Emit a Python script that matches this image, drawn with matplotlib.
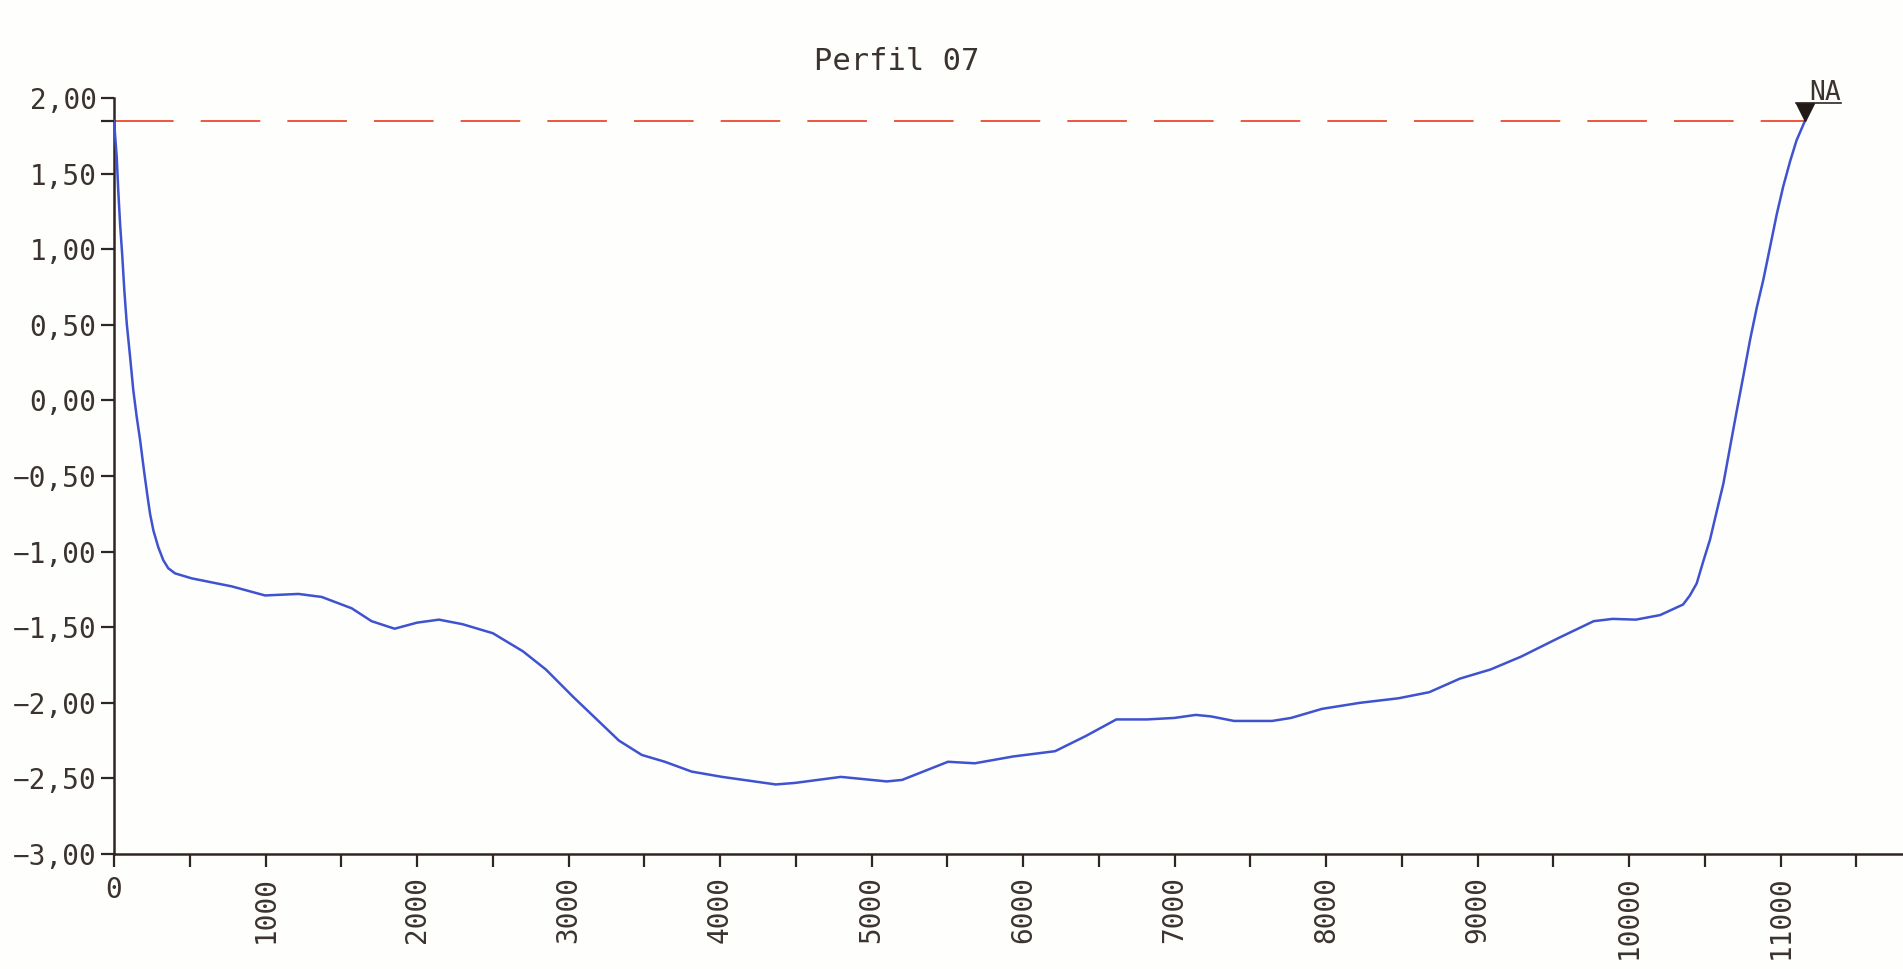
import matplotlib.pyplot as plt
from matplotlib.lines import Line2D
from matplotlib.transforms import offset_copy, IdentityTransform

plt.rcParams['font.family'] = 'DejaVu Sans Mono'

# perfil batimetrico - distancia (m) x cota (m)
distancia = [0, 18, 28, 40, 55, 68, 84, 106, 127, 150, 172, 200, 222, 238, 260,
             292, 325, 358, 403, 513, 777, 997, 1217, 1371,
             1569, 1700, 1852, 2000, 2145, 2300, 2501, 2700, 2851, 3030, 3333,
             3484, 3636, 3813, 4014, 4368, 4494, 4798, 5101, 5202, 5505, 5682,
             5935, 6212, 6414, 6616, 6819, 7000, 7140, 7241, 7393, 7644, 7770,
             7974, 8225, 8479, 8681, 8884, 9085, 9287, 9538, 9767, 9893, 10045,
             10205, 10357, 10402, 10447, 10490, 10535, 10579, 10623, 10667,
             10711, 10755, 10799, 10843, 10887, 10931, 10975, 11018, 11063,
             11106, 11162]
cota = [1.85, 1.61, 1.39, 1.17, 0.95, 0.73, 0.51, 0.29, 0.07, -0.11, -0.26,
        -0.48, -0.64, -0.75, -0.86, -0.97, -1.056, -1.11, -1.144, -1.177,
        -1.23, -1.29, -1.28, -1.30, -1.375, -1.46, -1.51, -1.47, -1.45, -1.48,
        -1.54, -1.66, -1.78, -1.96, -2.25, -2.345, -2.39, -2.455, -2.49, -2.54,
        -2.53, -2.49, -2.52, -2.51, -2.39, -2.40, -2.355, -2.32, -2.22, -2.11,
        -2.11, -2.10, -2.08, -2.09, -2.12, -2.12, -2.10, -2.04, -2.00, -1.97,
        -1.93, -1.84, -1.78, -1.695, -1.57, -1.46, -1.445, -1.45, -1.42, -1.35,
        -1.29, -1.21, -1.065, -0.92, -0.734, -0.55, -0.309, -0.07, 0.163, 0.40,
        0.612, 0.80, 1.014, 1.23, 1.415, 1.58, 1.72, 1.85]

nivel_agua = 1.85
x_na = 11162

y_ticks = [2.0, 1.5, 1.0, 0.5, 0.0, -0.5, -1.0, -1.5, -2.0, -2.5, -3.0]
x_ticks = list(range(0, 11001, 1000))

cor_texto = '#3b3330'
cor_eixo = '#2f2624'
fundo = '#fefefc'

fig = plt.figure(figsize=(19.03, 9.69), dpi=100, facecolor=fundo)
ax = fig.add_axes([114 / 1903, 115 / 969, 1 - 114 / 1903, (854 - 98) / 969])
ax.set_facecolor(fundo)
ax.set_xlim(0, (1903 - 114) / 0.1515)
ax.set_ylim(-3, 2)

# nivel d'agua
ax.plot([0, x_na], [nivel_agua, nivel_agua], color='#ec4a2e', lw=1.3,
        dashes=(33, 15), zorder=2)
# fundo do canal
ax.plot(distancia, cota, color='#3f52cf', lw=1.8, zorder=3,
        solid_joinstyle='round')

# marcador NA
tr_tri = offset_copy(ax.transData, fig=fig, x=0, y=8.5, units='dots')
ax.plot([x_na], [nivel_agua], marker='v', markersize=13, color='#231a18',
        transform=tr_tri, clip_on=False, zorder=4)
tr_txt = offset_copy(ax.transData, fig=fig, x=4, y=21, units='dots')
ax.text(x_na, nivel_agua, 'NA', transform=tr_txt, fontsize=19,
        color=cor_texto, ha='left', va='baseline', clip_on=False)
px, py = ax.transData.transform((x_na, nivel_agua))
fig.add_artist(Line2D([px - 9, px + 36], [py + 18, py + 18], lw=1.2,
                      color=cor_eixo, transform=IdentityTransform()))

for s in ['top', 'right']:
    ax.spines[s].set_visible(False)
for s in ['left', 'bottom']:
    ax.spines[s].set_color(cor_eixo)
    ax.spines[s].set_linewidth(1.8)

ax.set_yticks(y_ticks)
ax.set_yticklabels([f'{v:.2f}'.replace('.', ',').replace('-', '\u2212') for v in y_ticks])
ax.set_yticks([nivel_agua], minor=True)
ax.set_xticks(x_ticks)
ax.set_xticklabels([str(v) for v in x_ticks], rotation=90)
ax.get_xticklabels()[0].set_rotation(0)
ax.set_xticks(list(range(500, 11600, 1000)), minor=True)
ax.tick_params(which='both', direction='out', length=9.5, width=1.6,
               color=cor_eixo, labelsize=20, labelcolor=cor_texto)
ax.tick_params(axis='y', pad=3)
ax.tick_params(axis='x', pad=6)

fig.text(897 / 1903, 1 - 62 / 969, 'Perfil 07', fontsize=22, color=cor_texto,
         ha='center', va='center')

fig.savefig('out.png', dpi=100, facecolor=fundo)
